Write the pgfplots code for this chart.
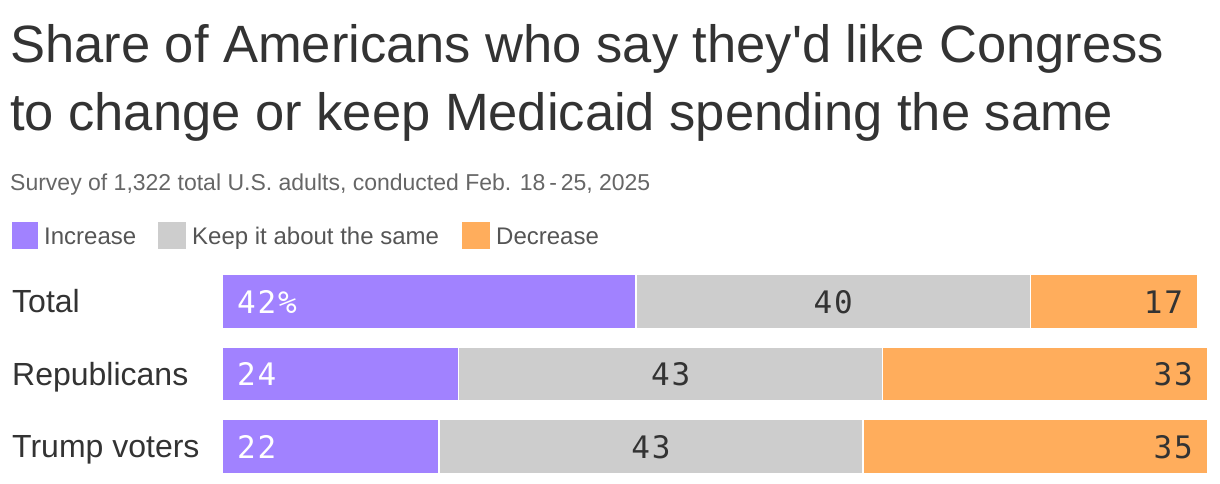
\documentclass[border=0pt]{standalone}
\usepackage{pgfplots}
\pgfplotsset{compat=1.18}
\usepackage{pgfplotstable}
\usepackage{fontspec}
\setmainfont{Liberation Sans}
\newfontfamily\titlefont{Liberation Sans}
\setmonofont{DejaVu Sans Mono}[LetterSpace=6]
\definecolor{incr}{HTML}{A182FF}
\definecolor{keep}{HTML}{CDCDCD}
\definecolor{decr}{HTML}{FFAD5C}
\definecolor{titlec}{HTML}{333333}
\definecolor{subc}{HTML}{666666}
\definecolor{legc}{HTML}{555555}
\tikzset{lbl/.style={inner sep=0, font=\ttfamily\fontsize{31}{34}\selectfont, yshift=-11.5pt}}

\pgfplotstableread{
cat inc keep dec
0 42 40 17
1 24 43 33
2 22 43 35
}\datatable

\begin{document}
\begin{tikzpicture}
\useasboundingbox (0,0) rectangle (1220pt,-484pt);
\node[anchor=base west, inner sep=0, font=\titlefont\fontsize{52.5}{68}\selectfont, text=titlec] at (10pt,-63pt) {Share of Americans who say they'd like Congress};
\node[anchor=base west, inner sep=0, font=\fontsize{52.5}{68}\selectfont, text=titlec] at (10pt,-131pt) {to change or keep Medicaid spending the same};
\node[anchor=base west, inner sep=0, font=\fontsize{23}{27}\selectfont, text=subc] at (10pt,-190pt) {Survey of 1,322 total U.S. adults, conducted Feb. 18\,-\,25, 2025};
% legend
\fill[incr] (12pt,-222pt) rectangle (38pt,-249pt);
\node[anchor=base west, inner sep=0, font=\fontsize{24}{28}\selectfont, text=legc] at (44pt,-244pt) {Increase};
\fill[keep] (158pt,-222pt) rectangle (186pt,-249pt);
\node[anchor=base west, inner sep=0, font=\fontsize{24}{28}\selectfont, text=legc] at (192pt,-244pt) {Keep it about the same};
\fill[decr] (462pt,-222pt) rectangle (490pt,-249pt);
\node[anchor=base west, inner sep=0, font=\fontsize{24}{28}\selectfont, text=legc] at (496pt,-244pt) {Decrease};

\begin{axis}[at={(222pt,-265.25pt)}, anchor=north west, scale only axis,
  width=986pt, height=217.5pt, xmin=0, xmax=100, ymin=-0.5, ymax=2.5,
  y dir=reverse, xbar stacked, bar width=54pt, hide axis, clip=false]
\addplot[fill=incr, draw=white, line width=1.5pt] table[x=inc,y=cat]{\datatable};
\addplot[fill=keep, draw=white, line width=1.5pt] table[x=keep,y=cat]{\datatable};
\addplot[fill=decr, draw=white, line width=1.5pt] table[x=dec,y=cat]{\datatable};
\coordinate (a0) at (axis cs:0,0);
\coordinate (b0) at (axis cs:62,0);
\coordinate (c0) at (axis cs:99,0);
\coordinate (a1) at (axis cs:0,1);
\coordinate (b1) at (axis cs:45.5,1);
\coordinate (c1) at (axis cs:100,1);
\coordinate (a2) at (axis cs:0,2);
\coordinate (b2) at (axis cs:43.5,2);
\coordinate (c2) at (axis cs:100,2);
\end{axis}
\foreach \i/\lab in {0/Total,1/Republicans,2/Trump voters}{
  \node[anchor=base west, inner sep=0, font=\fontsize{32}{36}\selectfont, text=titlec, xshift=-210pt, yshift=-11pt] at (a\i) {\lab};
}
% value labels
\node[lbl, anchor=base west, text=white, xshift=15pt] at (a0) {42\%};
\node[lbl, anchor=base, text=titlec] at (b0) {40};
\node[lbl, anchor=base east, text=titlec, xshift=-15pt] at (c0) {17};
\node[lbl, anchor=base west, text=white, xshift=15pt] at (a1) {24};
\node[lbl, anchor=base, text=titlec] at (b1) {43};
\node[lbl, anchor=base east, text=titlec, xshift=-15pt] at (c1) {33};
\node[lbl, anchor=base west, text=white, xshift=15pt] at (a2) {22};
\node[lbl, anchor=base, text=titlec] at (b2) {43};
\node[lbl, anchor=base east, text=titlec, xshift=-15pt] at (c2) {35};
\end{tikzpicture}
\end{document}
